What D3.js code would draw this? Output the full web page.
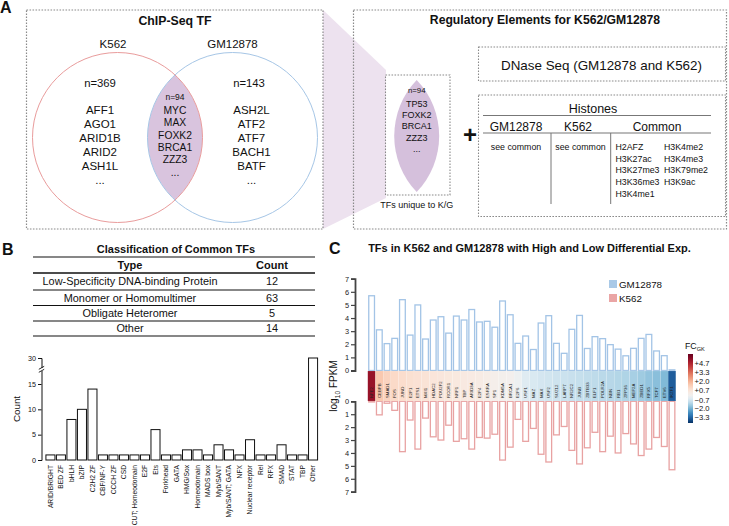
<!DOCTYPE html>
<html><head><meta charset="utf-8">
<script src="https://cdn.jsdelivr.net/npm/d3@7"></script>
<style>
html,body{margin:0;padding:0;background:#fff;}
svg{display:block;font-family:"Liberation Sans",Arial,Helvetica,sans-serif;}
</style></head>
<body>
<svg id="c" width="729" height="526"></svg>
<script>
// ---------------- DATA ----------------
const vennSets = ["K562", "GM12878"];
const vennCounts = [369, 143, 94];
const k562Only = ["AFF1", "AGO1", "ARID1B", "ARID2", "ASH1L", "..."];
const gmOnly = ["ASH2L", "ATF2", "ATF7", "BACH1", "BATF", "..."];
const commonTFs = ["MYC", "MAX", "FOXK2", "BRCA1", "ZZZ3", "..."];
const uniqueKG = ["TP53", "FOXK2", "BRCA1", "ZZZ3", "..."];
const histoneCols = ["GM12878", "K562", "Common"];
const histoneCommon1 = ["H2AFZ", "H3K27ac", "H3K27me3", "H3K36me3", "H3K4me1"];
const histoneCommon2 = ["H3K4me2", "H3K4me3", "H3K79me2", "H3K9ac"];

const tableTypes = ["Low-Specificity DNA-binding Protein", "Monomer or Homomultimer", "Obligate Heteromer", "Other"];
const tableCounts = [12, 63, 5, 14];

const families = ["ARID/BRIGHT", "BED ZF", "bHLH", "bZIP", "C2H2 ZF", "CBF/NF-Y", "CCCH ZF", "CSD",
  "CUT; Homeodomain", "E2F", "Ets", "Forkhead", "GATA", "HMG/Sox", "Homeodomain", "MADS box",
  "Myb/SANT", "Myb/SANT; GATA", "NFX", "Nuclear receptor", "Rel", "RFX", "SMAD", "STAT", "TBP", "Other"];
const familyCounts = [1, 1, 8, 10, 14, 1, 1, 1, 1, 1, 6, 1, 1, 2, 2, 1, 3, 2, 1, 4, 1, 1, 3, 1, 1, 30];
const countTicks = [0, 5, 10, 15, 30];

const tfNames = ["NFE2", "CEBPB", "SMAD1", "FOS", "JUND", "E2F1", "ETS1", "MXI1", "HDAC2", "POU2F2",
  "RCOR1", "NRF1", "TBP", "ARID3A", "E2F4", "ESRRA", "SP1", "KDM5A", "BRCA1", "E2F6",
  "USF1", "MAZ", "MAX", "USF2", "SUZ12", "LARP7", "NR2C2", "JUNB", "ZBTB33", "ELF1",
  "POLR2A", "NBN", "RB1", "ZFP36", "MEF2A", "ZBED1", "RFX5", "TCF7", "ETV6", "IKZF1"];
const gmExpr = [5.7, 3.1, 2.05, 2.45, 5.4, 2.7, 5.0, 2.4, 3.85, 4.1,
  2.85, 4.15, 3.85, 4.65, 3.7, 3.75, 3.3, 5.3, 4.25, 2.07,
  2.63, 1.6, 3.62, 4.18, 2.07, 1.31, 3.14, 4.2, 1.68, 2.58,
  2.43, 1.97, 1.63, 1.12, 1.69, 2.45, 2.75, 1.49, 1.13, 0.05];
const k562Expr = [0.05, 1.05, 0.15, 0.7, 3.9, 1.45, 3.7, 1.3, 2.75, 3.0,
  1.85, 3.1, 2.9, 3.7, 2.8, 2.85, 2.55, 4.55, 3.55, 1.4,
  3.1, 2.1, 4.1, 4.7, 2.6, 1.95, 3.8, 4.85, 3.6, 2.4,
  3.9, 2.7, 4.0, 2.5, 3.3, 4.2, 3.7, 2.8, 3.5, 5.3];
const fcValues = [5.2, 1.6, 1.3, 1.1, 1.0, 0.9, 0.85, 0.8, 0.7, 0.65,
  0.6, 0.55, 0.5, 0.45, 0.4, 0.3, 0.2, 0.1, 0.05, -0.15,
  -0.5, -0.6, -0.7, -0.75, -0.8, -0.85, -0.9, -0.95, -1.0, -1.05,
  -1.1, -1.15, -1.2, -1.25, -1.35, -1.45, -1.6, -1.7, -1.8, -3.4];
const fcTicks = [4.7, 3.3, 2.0, 0.7, -0.7, -2.0, -3.3];
const exprTicks = [0, 1, 2, 3, 4, 5, 6, 7];
const exprSeries = ["GM12878", "K562"];

// ---------------- DRAW ----------------
const svg = d3.select("#c");
const FONT = '"Liberation Sans",Arial,Helvetica,sans-serif';
const dash = "1.6,1.4";
const grey = "#8a8a8a";
function txt(g, x, y, s, size, opts = {}) {
  return g.append("text").attr("x", x).attr("y", y).text(s)
    .attr("font-size", size).attr("text-anchor", opts.anchor || "middle")
    .attr("font-weight", opts.bold ? "bold" : null).attr("fill", opts.fill || "#111");
}

// Panel letters
txt(svg, 0, 13, "A", 16, {anchor: "start", bold: true});
txt(svg, 2, 255, "B", 16, {anchor: "start", bold: true});
txt(svg, 329, 254, "C", 16, {anchor: "start", bold: true});

// ===== Panel A =====
const A = svg.append("g");
A.append("path").attr("d", "M323,10 L386,70 L386,198 L323,229 Z").attr("fill", "#ede2ef");
A.append("rect").attr("x", 26.5).attr("y", 10).attr("width", 296.5).attr("height", 219)
  .attr("fill", "none").attr("stroke", grey).attr("stroke-width", 1.2).attr("stroke-dasharray", dash);
txt(A, 175, 24.5, "ChIP-Seq TF", 12.3, {bold: true});
txt(A, 113, 48, vennSets[0], 11.5);
txt(A, 232.5, 48, vennSets[1], 11.5);
const r = 85, cy = 137.5;
A.append("path").attr("d", `M175,${cy - 62.5} A${r},${r} 0 0 1 175,${cy + 62.5} A${r},${r} 0 0 1 175,${cy - 62.5} Z`)
  .attr("fill", "#d9c4de");
A.append("circle").attr("cx", 117.5).attr("cy", cy).attr("r", r).attr("fill", "none").attr("stroke", "#e99c9c").attr("stroke-width", 1);
A.append("circle").attr("cx", 232.5).attr("cy", cy).attr("r", r).attr("fill", "none").attr("stroke", "#a6c6e6").attr("stroke-width", 1);
txt(A, 100, 86.5, "n=" + vennCounts[0], 11.3);
txt(A, 249, 86.5, "n=" + vennCounts[1], 11.3);
txt(A, 175, 100, "n=" + vennCounts[2], 8.5);
k562Only.forEach((s, i) => txt(A, 100, 114 + i * 13.9, s, 11.5));
gmOnly.forEach((s, i) => txt(A, 251.5, 114 + i * 13.9, s, 11.5));
commonTFs.forEach((s, i) => txt(A, 175, 114 + i * 12.3, s, 10.3));

A.append("rect").attr("x", 353.5).attr("y", 10).attr("width", 373).attr("height", 219)
  .attr("fill", "none").attr("stroke", grey).attr("stroke-width", 1.2).attr("stroke-dasharray", dash);
txt(A, 545, 24, "Regulatory Elements for K562/GM12878", 12.2, {bold: true});
A.append("rect").attr("x", 385.5).attr("y", 75).attr("width", 64.5).attr("height", 120)
  .attr("fill", "none").attr("stroke", grey).attr("stroke-width", 1.1).attr("stroke-dasharray", dash);
const lx = 416.7;
A.append("path").attr("d", `M${lx},80 A81,81 0 0 1 ${lx},192 A81,81 0 0 1 ${lx},80 Z`).attr("fill", "#d5c0dc");
txt(A, lx, 93, "n=" + vennCounts[2], 7.8);
uniqueKG.forEach((s, i) => txt(A, lx, 107 + i * 11.2, s, 9));
txt(A, lx, 208, "TFs unique to K/G", 9);
txt(A, 470, 143, "+", 24, {bold: true});
A.append("rect").attr("x", 478.5).attr("y", 47).attr("width", 247).attr("height", 34)
  .attr("fill", "none").attr("stroke", grey).attr("stroke-width", 1.1).attr("stroke-dasharray", dash);
txt(A, 601.5, 69.5, "DNase Seq (GM12878 and K562)", 13.4);
A.append("rect").attr("x", 478.5).attr("y", 95).attr("width", 247).attr("height", 121.5)
  .attr("fill", "none").attr("stroke", grey).attr("stroke-width", 1.1).attr("stroke-dasharray", dash);
txt(A, 593, 112.5, "Histones", 12.5);
A.append("line").attr("x1", 483).attr("x2", 711).attr("y1", 115.5).attr("y2", 115.5).attr("stroke", "#777").attr("stroke-width", 1.2);
const hx = [516, 578, 657];
histoneCols.forEach((s, i) => txt(A, hx[i], 130.5, s, 12));
A.append("line").attr("x1", 483).attr("x2", 711).attr("y1", 133).attr("y2", 133).attr("stroke", "#777").attr("stroke-width", 1.2);
[551, 610.7].forEach(x => A.append("line").attr("x1", x).attr("x2", x).attr("y1", 133).attr("y2", 204).attr("stroke", "#777").attr("stroke-width", 1));
txt(A, 516, 150, "see common", 8.8);
txt(A, 580.5, 150, "see common", 8.8);
histoneCommon1.forEach((s, i) => txt(A, 615.5, 150 + i * 11.7, s, 8.8, {anchor: "start"}));
histoneCommon2.forEach((s, i) => txt(A, 664, 150 + i * 11.7, s, 8.8, {anchor: "start"}));

// ===== Panel B =====
const B = svg.append("g");
txt(B, 176, 253, "Classification of Common TFs", 11, {bold: true});
const tLines = [257, 273, 290, 305.5, 321, 336];
tLines.forEach((y, i) => B.append("line").attr("x1", 33).attr("x2", 315).attr("y1", y).attr("y2", y)
  .attr("stroke", "#111").attr("stroke-width", i === 1 ? 1.4 : 1.1));
txt(B, 130, 269, "Type", 11, {bold: true});
txt(B, 272, 269, "Count", 11, {bold: true});
tableTypes.forEach((s, i) => {
  const ym = (tLines[i + 1] + tLines[i + 2]) / 2 + 3.8;
  txt(B, 130, ym, s, 10.9);
  txt(B, 272, ym, tableCounts[i], 10.9);
});
const xB = d3.scaleBand().domain(families).range([45.5, 318]).paddingInner(0.14).paddingOuter(0.04);
const yB = d3.scaleLinear().domain([0, 15, 30]).range([460, 384, 358]);
B.selectAll("rect.fam").data(families).join("rect").attr("class", "fam")
  .attr("x", d => xB(d)).attr("width", xB.bandwidth())
  .attr("y", (d, i) => yB(familyCounts[i])).attr("height", (d, i) => yB(0) - yB(familyCounts[i]))
  .attr("fill", "#fff").attr("stroke", "#111").attr("stroke-width", 1);
const axB = B.append("g").attr("transform", "translate(41.5,0)")
  .call(d3.axisLeft(yB).tickValues(countTicks).tickSize(3.5).tickPadding(2));
axB.selectAll("text").attr("font-size", 7.2).attr("font-family", FONT).attr("fill", "#111");
axB.select(".domain").attr("stroke", "#111").attr("stroke-width", 1);
axB.selectAll(".tick line").attr("stroke", "#111");
B.append("rect").attr("x", 39).attr("y", 368).attr("width", 5).attr("height", 3).attr("fill", "#fff");
[366.8, 369.8].forEach(y => B.append("line").attr("x1", 38.8).attr("x2", 44.2).attr("y1", y + 2.5).attr("y2", y - 0.5)
  .attr("stroke", "#111").attr("stroke-width", 0.9));
B.append("text").attr("transform", "translate(20,409) rotate(-90)").attr("text-anchor", "middle")
  .attr("font-size", 9.8).attr("fill", "#111").text("Count");
B.selectAll("text.fl").data(families).join("text").attr("class", "fl")
  .attr("transform", d => `translate(${xB(d) + xB.bandwidth() / 2 + 2.4},465) rotate(-90)`)
  .attr("text-anchor", "end").attr("font-size", 6.7).attr("fill", "#111").text(d => d);

// ===== Panel C =====
const C = svg.append("g");
txt(C, 529.5, 251.5, "TFs in K562 and GM12878 with High and Low Differential Exp.", 11, {bold: true});
const xC = d3.scaleBand().domain(tfNames).range([368, 675.6]).paddingInner(0.1).paddingOuter(0.02);
const yTop = d3.scaleLinear().domain([0, 7]).range([370.5, 278.7]);
const yBot = d3.scaleLinear().domain([0, 7]).range([401.3, 491.7]);
const color = d3.scaleDiverging([-4.1, 0, 6.0], t => d3.interpolateRdBu(1 - t));
const blueStroke = "#a3c4e6", redStroke = "#e8a2a2";
C.selectAll("rect.gm").data(tfNames).join("rect").attr("class", "gm")
  .attr("x", d => xC(d) + 0.6).attr("width", xC.bandwidth() - 1.2)
  .attr("y", (d, i) => yTop(gmExpr[i])).attr("height", (d, i) => Math.max(0.5, yTop(0) - yTop(gmExpr[i])))
  .attr("fill", "#fff").attr("stroke", blueStroke).attr("stroke-width", 1.3);
C.selectAll("rect.k5").data(tfNames).join("rect").attr("class", "k5")
  .attr("x", d => xC(d) + 0.6).attr("width", xC.bandwidth() - 1.2)
  .attr("y", yBot(0)).attr("height", (d, i) => Math.max(0.5, yBot(k562Expr[i]) - yBot(0)))
  .attr("fill", "#fff").attr("stroke", redStroke).attr("stroke-width", 1.3);
const step = xC.step();
C.selectAll("rect.hm").data(tfNames).join("rect").attr("class", "hm")
  .attr("x", d => xC(d) - step * 0.05).attr("width", step)
  .attr("y", 371).attr("height", 30)
  .attr("fill", (d, i) => color(fcValues[i])).attr("stroke", "rgba(255,255,255,0.35)").attr("stroke-width", 0.3);
C.selectAll("text.hl").data(tfNames).join("text").attr("class", "hl")
  .attr("transform", d => `translate(${xC(d) + xC.bandwidth() / 2 + 1.5},398) rotate(-90)`)
  .attr("text-anchor", "start").attr("font-size", 4.3).attr("fill", "#222").text(d => d);
[yTop, yBot].forEach(sc => {
  const g = C.append("g").attr("transform", "translate(355,0)")
    .call(d3.axisLeft(sc).tickValues(exprTicks).tickSize(4).tickPadding(2).tickFormat(d3.format("d")));
  g.selectAll("text").attr("font-size", 7.4).attr("font-family", FONT).attr("fill", "#222");
  g.select(".domain").attr("stroke", "#444").attr("stroke-width", 1.8);
  g.selectAll(".tick line").attr("stroke", "#444").attr("stroke-width", 1.2);
});
const yl = C.append("text").attr("transform", "translate(337,386) rotate(-90)").attr("text-anchor", "middle")
  .attr("font-size", 10).attr("fill", "#111");
yl.append("tspan").text("log");
yl.append("tspan").attr("font-size", 6.8).attr("dy", 2.5).text("10");
yl.append("tspan").attr("dy", -2.5).text(" FPKM");
const legCols = ["#a9c9e7", "#eaa5a5"];
exprSeries.forEach((s, i) => {
  C.append("rect").attr("x", 609).attr("y", 280 + i * 14).attr("width", 8).attr("height", 8).attr("fill", legCols[i]);
  txt(C, 619, 287.8 + i * 14, s, 9.8, {anchor: "start"});
});
const cbTop = 354, cbBot = 423;
const yCB = d3.scaleLinear().domain([4.7, -3.3]).range([363.3, 417.7]);
const grad = svg.append("defs").append("linearGradient").attr("id", "fcg").attr("x1", 0).attr("x2", 0).attr("y1", 0).attr("y2", 1);
d3.range(0, 1.0001, 0.05).forEach(t => {
  const v = yCB.invert(cbTop + t * (cbBot - cbTop));
  grad.append("stop").attr("offset", t).attr("stop-color", color(v));
});
C.append("rect").attr("x", 688).attr("y", cbTop).attr("width", 5).attr("height", cbBot - cbTop).attr("fill", "url(#fcg)");
fcTicks.forEach(v => txt(C, 694.5, yCB(v) + 2.6, (v > 0 ? "+" : "\u2212") + Math.abs(v).toFixed(1), 7.6, {anchor: "start"}));
const ft = C.append("text").attr("x", 685).attr("y", 349).attr("font-size", 8.8).attr("fill", "#111");
ft.append("tspan").text("FC");
ft.append("tspan").attr("font-size", 5.6).attr("dy", 2).text("GK");
</script>
</body></html>
